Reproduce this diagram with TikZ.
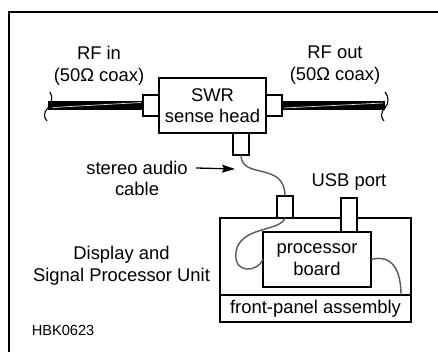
\documentclass[tikz,border=0pt]{standalone}
\usepackage{fontspec}
\setmainfont{Liberation Sans}
\usetikzlibrary{arrows.meta, positioning, calc}
\tikzset{
    box/.style={rectangle, draw, fill=white, line width=1.8pt, outer sep=0pt, align=center, font=\fontsize{18.4}{21.5}\selectfont},
    plug/.style={rectangle, draw, fill=white, line width=1.8pt, outer sep=0pt, inner sep=0pt, minimum width=16pt},
    txt/.style={align=center, font=\fontsize{18.4}{22}\selectfont},
    coax/.style={line width=9pt, black},
    shine/.style={gray!25, line width=0.7pt},
    cutmark/.style={line width=1.1pt},
    wire/.style={gray!70!black, line width=1.4pt},
    arrow/.style={-{Stealth[length=13pt, width=8pt, inset=2pt]}, line width=1.3pt}
}

\begin{document}
\begin{tikzpicture}[x=1pt, y=-1pt]
    \useasboundingbox (0,0) rectangle (438,352);
    % Frame
    \draw[line width=2.5pt] (9,352) |- (438,12);

    % Sense head and plugs
    \node (swr) [box, minimum width=107pt, minimum height=55pt] at (212.5,105.5) {SWR\\sense head};
    \node (conl) [plug, minimum height=21pt, left=0pt of swr] {};
    \node (conr) [plug, minimum height=21pt, right=0pt of swr] {};
    \node (conb) [plug, minimum height=22pt, below=0pt of swr.south, xshift=28.5pt] {};

    % Coax runs
    \coordinate (cutl) at (48,105.5);
    \coordinate (cutr) at (385,105.5);
    \draw[coax] (conl.west) -- (cutl);
    \draw[coax] (conr.east) -- (cutr);
    \draw[shine] (53,107.5) -- (141,102.5);
    \draw[shine] (284,108) -- (383,103);
    \draw[cutmark] (50,92) .. controls (53,97) and (52,103) .. (48,108) .. controls (43,113) and (44,118) .. (47,121);
    \draw[cutmark] (385,92) .. controls (389,97) and (389,103) .. (385,108) .. controls (380,113) and (381,118) .. (384,121);

    \node (rfin) [txt] at (99,65.5) {RF in\\(50Ω coax)};
    \node (rfout) [txt] at (335,65.5) {RF out\\(50Ω coax)};

    % Display unit
    \node (unit) [box, minimum width=191pt, minimum height=104pt] at (315.5,270) {};
    \node (fpanel) [box, minimum width=191pt, minimum height=27pt, anchor=south] at (unit.south) {front-panel assembly};
    \node (board) [box, minimum width=108pt, minimum height=55pt] at (317,259.5) {processor\\board};
    \node (usb) [plug, minimum height=34pt, above=0pt of board.north, xshift=32pt] {};
    \node (conu) [plug, minimum height=22pt, above=0pt of unit.north, xshift=-30.5pt] {};

    % Cables
    \draw[wire] (conb.south) .. controls +(0,25) and +(0,-35) .. (conu.north);
    \draw[wire] (conu.south) .. controls (280,232) and (240,226) .. (236,252) .. controls (233,275) and (258,272) .. (board.west);
    \draw[wire] (board.east) .. controls (392,254) and (401,270) .. ($(fpanel.north east)+(-10,0)$);

    % Labels
    \node (saudio) [txt] at (137,168) {stereo audio};
    \node (scable) [txt] at (137,189) {cable};
    \coordinate (tip) at (235,169);
    \draw[arrow] ([xshift=5pt]saudio.east) -- (tip);

    \node (disp) [txt] at (121.5,266) {Display and\\Signal Processor Unit};
    \node (usbtxt) [txt] at (349,182) {USB port};
    \node (hbk) [txt, font=\fontsize{14.6}{17}\selectfont] at (63,330) {HBK0623};
\end{tikzpicture}
\end{document}
